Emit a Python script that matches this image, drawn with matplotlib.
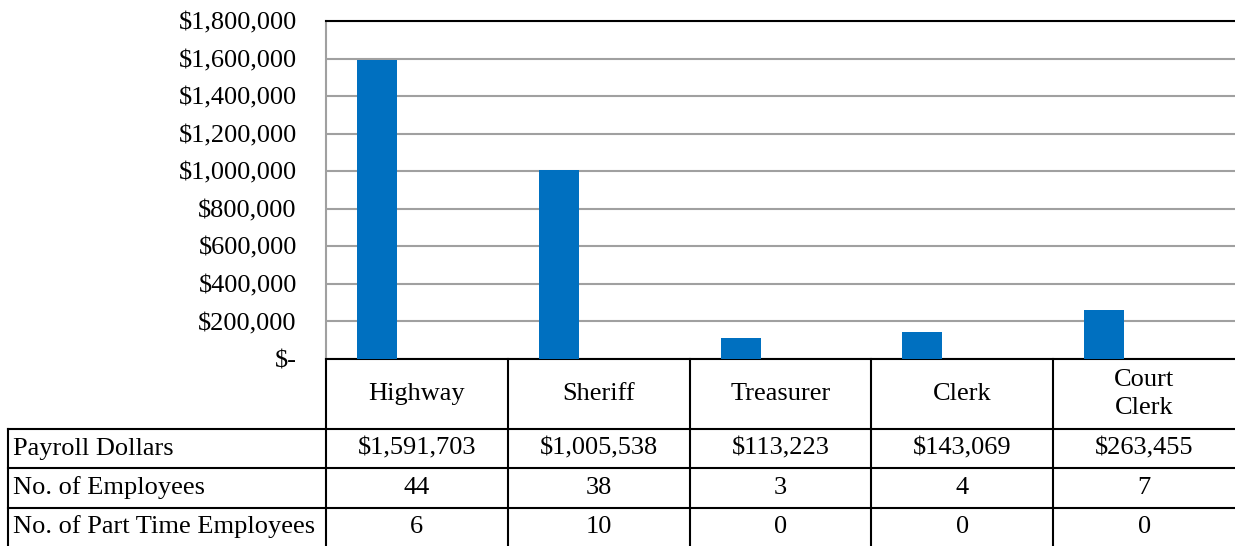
import matplotlib
matplotlib.use('Agg')
import matplotlib.pyplot as plt
from matplotlib.ticker import FuncFormatter, MultipleLocator
import numpy as np

departments = ["Highway", "Sheriff", "Treasurer", "Clerk", "Court\nClerk"]
payroll = [1591703, 1005538, 113223, 143069, 263455]
employees = [44, 38, 3, 4, 7]
part_time = [6, 10, 0, 0, 0]
row_labels = ["Payroll Dollars", "No. of Employees", "No. of Part Time Employees"]

plt.rcParams['font.family'] = ['Liberation Serif', 'DejaVu Serif']
FS = 19

fig = plt.figure(figsize=(12.35, 5.46), dpi=100)
ax = fig.add_axes([326 / 1235, 187 / 546, 909 / 1235, 338 / 546])

x = np.arange(len(departments))
w = 0.22
ax.bar(x - w, payroll, w, color="#0070C0", zorder=3)
ax.bar(x, employees, w, color="#ED7D31", zorder=3)
ax.bar(x + w, part_time, w, color="#A5A5A5", zorder=3)

ax.set_xlim(-0.5, len(departments) - 0.5)
ax.set_ylim(0, 1800000)
ax.yaxis.set_major_locator(MultipleLocator(200000))
ax.yaxis.set_major_formatter(FuncFormatter(lambda v, p: "$-" if v == 0 else f"${v:,.0f}"))
ax.tick_params(axis='y', length=0, pad=21, labelsize=FS)
ax.set_xticks([])
ax.grid(axis='y', color="#A0A0A0", lw=1.5, zorder=0)

ax.spines['right'].set_visible(False)
ax.spines['top'].set_color("black")
ax.spines['top'].set_linewidth(1.5)
ax.spines['left'].set_color("#A0A0A0")
ax.spines['left'].set_linewidth(1.5)
ax.spines['bottom'].set_color("black")
ax.spines['bottom'].set_linewidth(1.5)

# data table under the chart
tr = ax.get_xaxis_transform()
h = 338.0
row_lines = [-70 / h, -109 / h, -149 / h, -190 / h]
label_left = -0.5 - 318 / 181.8
kw = dict(color="black", lw=1.5, transform=tr, clip_on=False)
for yl in row_lines[:3]:
    ax.plot([label_left, len(departments) - 0.5], [yl, yl], **kw)
for xv in np.arange(-0.5, len(departments) - 1, 1.0):
    ax.plot([xv, xv], [0, row_lines[-1]], **kw)
ax.plot([label_left, label_left], [row_lines[0], row_lines[-1]], **kw)

for i, d in enumerate(departments):
    ax.text(x[i], -35 / h, d, transform=tr, ha='center', va='center', fontsize=FS, linespacing=1.4)

rows = [[f"${v:,}" for v in payroll], [str(v) for v in employees], [str(v) for v in part_time]]
centers = [-89.5 / h, -129 / h, -168 / h]
for r, yc in enumerate(centers):
    ax.text(label_left + 0.03, yc, row_labels[r], transform=tr, ha='left', va='center', fontsize=FS)
    for i in range(len(departments)):
        ax.text(x[i], yc, rows[r][i], transform=tr, ha='center', va='center', fontsize=FS)

fig.savefig("out.png", dpi=100)
